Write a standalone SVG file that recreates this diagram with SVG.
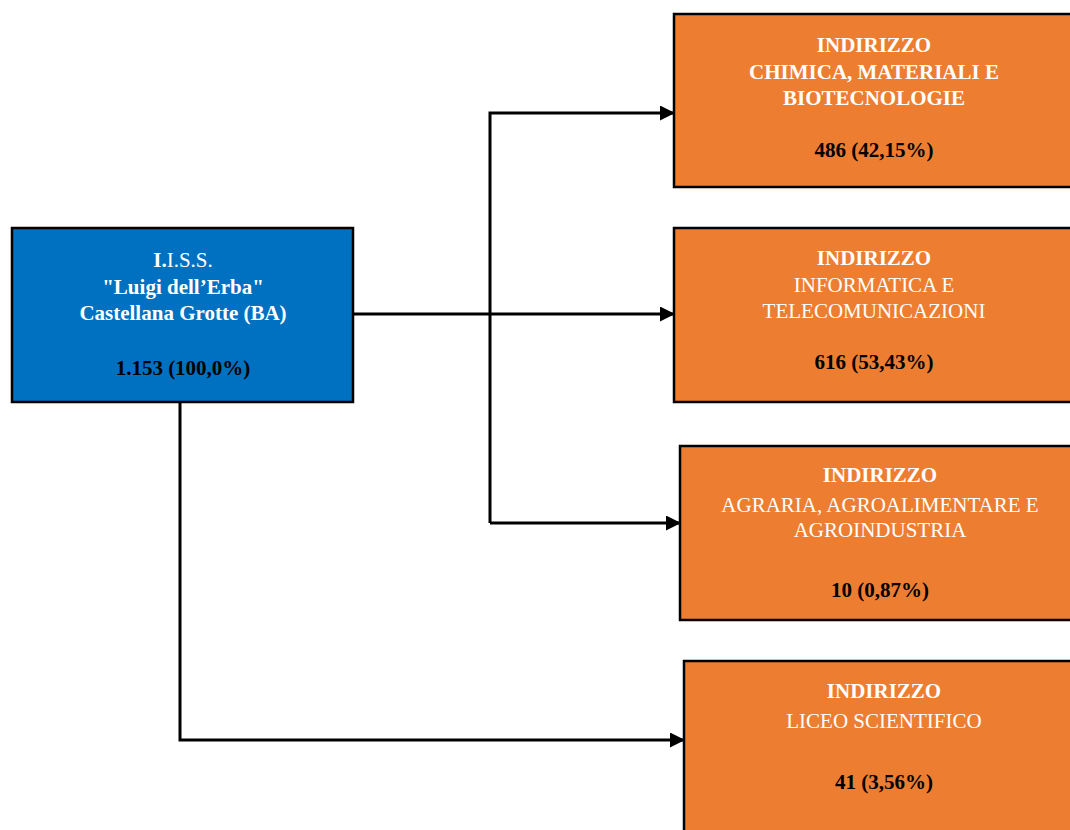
<svg xmlns="http://www.w3.org/2000/svg" width="1070" height="830" viewBox="0 0 1070 830">
<defs>
<marker id="arr" markerWidth="15" markerHeight="15" refX="14" refY="7.5" orient="auto" markerUnits="userSpaceOnUse">
<path d="M0,0 L15,7.5 L0,15 Z" fill="#000"/>
</marker>
<style>
.box{stroke:#000;stroke-width:2.5}
.blue{fill:#0070C0}
.orange{fill:#ED7D31}
text{font-family:"Liberation Serif","Times New Roman",serif;font-size:21px;text-anchor:middle}
.w{fill:#fff}
.k{fill:#000}
.b{font-weight:bold}
.conn{fill:none;stroke:#000;stroke-width:3}
</style>
</defs>
<rect width="1070" height="830" fill="#fff"/>
<g id="connectors">
<path class="conn" d="M353,314 L674,314" marker-end="url(#arr)"/>
<path class="conn" d="M490,523 L490,113 L674,113" marker-end="url(#arr)"/>
<path class="conn" d="M490,523 L680,523" marker-end="url(#arr)"/>
<path class="conn" d="M180,402 L180,740 L684,740" marker-end="url(#arr)"/>
</g>
<g id="root">
<rect class="box blue" x="12" y="228" width="341" height="174"/>
<text class="w" x="183" y="267"><tspan class="b">I.</tspan>I.S.S.</text>
<text class="w b" x="183" y="294">"Luigi dell’Erba"</text>
<text class="w b" x="183" y="320">Castellana Grotte (BA)</text>
<text class="k b" x="183" y="375">1.153 (100,0%)</text>
</g>
<g id="chimica">
<rect class="box orange" x="674" y="14" width="400" height="173"/>
<text class="w b" x="874" y="52">INDIRIZZO</text>
<text class="w b" x="874" y="79">CHIMICA, MATERIALI E</text>
<text class="w b" x="874" y="105">BIOTECNOLOGIE</text>
<text class="k b" x="874" y="157">486 (42,15%)</text>
</g>
<g id="informatica">
<rect class="box orange" x="674" y="228" width="400" height="174"/>
<text class="w b" x="874" y="265">INDIRIZZO</text>
<text class="w" x="874" y="292">INFORMATICA E</text>
<text class="w" x="874" y="318">TELECOMUNICAZIONI</text>
<text class="k b" x="874" y="369">616 (53,43%)</text>
</g>
<g id="agraria">
<rect class="box orange" x="680" y="446" width="394" height="174"/>
<text class="w b" x="880" y="482">INDIRIZZO</text>
<text class="w" x="880" y="512">AGRARIA, AGROALIMENTARE E</text>
<text class="w" x="880" y="537">AGROINDUSTRIA</text>
<text class="k b" x="880" y="597">10 (0,87%)</text>
</g>
<g id="liceo">
<rect class="box orange" x="684" y="661" width="390" height="175"/>
<text class="w b" x="884" y="698">INDIRIZZO</text>
<text class="w" x="884" y="728">LICEO SCIENTIFICO</text>
<text class="k b" x="884" y="789">41 (3,56%)</text>
</g>
</svg>
